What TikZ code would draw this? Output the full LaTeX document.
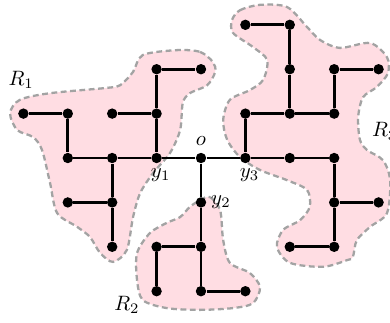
\documentclass[tikz,border=0pt]{standalone}
\usepackage{tikz}
\usetikzlibrary{positioning}
\definecolor{rgFill}{HTML}{FFDDE3}
\definecolor{rgLine}{HTML}{A3A3A3}
\tikzset{
  vtx/.style={circle, fill=black, inner sep=0pt, minimum size=5pt},
  tedge/.style={line width=1.4pt, black},
  region/.style={fill=rgFill, draw=rgLine, line width=1.1pt, dash pattern=on 2.8pt off 1.7pt},
  lbl/.style={font=\normalsize, inner sep=1pt}
}

\begin{document}
\begin{tikzpicture}[x=0.75cm, y=0.75cm]
  \useasboundingbox (-4.527,-3.694) rectangle (4.257,3.559);
  % regions
  \draw[region] plot[smooth cycle] coordinates {
    (-0.54,2.43) (-0.02,2.39) (0.27,2.16) (0.32,1.94) (0.14,1.64) (-0.25,1.46)
    (-0.41,1.24) (-0.47,0.63) (-0.70,0.11) (-1.08,-0.34) (-1.37,-0.79) (-1.53,-1.33)
    (-1.67,-2.07) (-1.98,-2.34) (-2.27,-2.14) (-2.50,-1.78) (-2.79,-1.55) (-3.24,-1.24)
    (-3.40,-0.56) (-3.58,0.18) (-3.78,0.47) (-4.14,0.63) (-4.30,1.01) (-4.08,1.31)
    (-3.40,1.46) (-2.12,1.58) (-1.82,1.64) (-1.53,1.94) (-1.31,2.32)};
  \draw[region] plot[smooth cycle] coordinates {
    (-0.02,-0.95) (0.20,-0.88) (0.43,-1.17) (0.50,-1.85) (0.65,-2.36) (1.10,-2.59)
    (1.33,-2.91) (1.17,-3.27) (0.72,-3.38) (-0.02,-3.42) (-0.77,-3.38) (-1.31,-3.20)
    (-1.44,-2.75) (-1.44,-2.14) (-1.15,-1.69) (-0.77,-1.46) (-0.47,-1.33) (-0.25,-1.10)};
  \draw[region] plot[smooth cycle] coordinates {
    (0.70,3.11) (0.88,3.33) (1.33,3.45) (1.94,3.40) (2.39,2.95) (2.68,2.66)
    (3.13,2.48) (3.81,2.59) (4.19,2.27) (4.21,1.91) (3.96,1.60) (3.65,1.37)
    (3.54,0.92) (3.58,0.41) (3.74,0.18) (4.10,-0.05) (4.26,-0.50) (4.19,-1.24)
    (3.81,-1.55) (3.51,-1.85) (3.42,-2.23) (3.29,-2.30) (2.75,-2.45) (2.00,-2.36)
    (1.71,-2.00) (1.85,-1.62) (2.23,-1.40) (2.45,-1.10) (2.39,-0.72) (1.94,-0.50)
    (1.33,-0.27) (0.88,0.02) (0.59,0.41) (0.50,0.86) (0.65,1.31) (1.10,1.53)
    (1.40,1.76) (1.49,2.21) (1.17,2.50) (0.72,2.82)};
  \node[lbl] (lR1) at (-4.05,1.76) {$R_1$};
  \node[lbl] (lR2) at (-1.67,-3.31) {$R_2$};
  \node[lbl, anchor=west] (lR3) at (3.80,0.60) {$R_3$};

  % centre
  \node[vtx] (o) at (0,0) {};
  \node[vtx] (y1) at (-1,0) {};
  \node[vtx] (y2) at (0,-1) {};
  \node[vtx] (y3) at (1,0) {};
  \node[lbl, above=2pt of o] (lo) {$o$};
  \node[lbl, below=1pt of y1, xshift=2pt] (ly1) {$y_1$};
  \node[lbl, right=1pt of y2] (ly2) {$y_2$};
  \node[lbl, below=1pt of y3, xshift=2pt] (ly3) {$y_3$};

  % R1
  \node[vtx] (a1) at (-4,1) {};
  \node[vtx] (a2) at (-3,1) {};
  \node[vtx] (a3) at (-2,1) {};
  \node[vtx] (a4) at (-1,1) {};
  \node[vtx] (a5) at (-1,2) {};
  \node[vtx] (a6) at (0,2) {};
  \node[vtx] (a7) at (-3,0) {};
  \node[vtx] (a8) at (-2,0) {};
  \node[vtx] (a9) at (-3,-1) {};
  \node[vtx] (a10) at (-2,-1) {};
  \node[vtx] (a11) at (-2,-2) {};

  % R2
  \node[vtx] (b1) at (0,-2) {};
  \node[vtx] (b2) at (-1,-2) {};
  \node[vtx] (b3) at (-1,-3) {};
  \node[vtx] (b4) at (0,-3) {};
  \node[vtx] (b5) at (1,-3) {};

  % R3
  \node[vtx] (c1) at (1,3) {};
  \node[vtx] (c2) at (2,3) {};
  \node[vtx] (c3) at (2,2) {};
  \node[vtx] (c4) at (3,2) {};
  \node[vtx] (c5) at (4,2) {};
  \node[vtx] (c6) at (1,1) {};
  \node[vtx] (c7) at (2,1) {};
  \node[vtx] (c8) at (3,1) {};
  \node[vtx] (c9) at (2,0) {};
  \node[vtx] (c10) at (3,0) {};
  \node[vtx] (c11) at (3,-1) {};
  \node[vtx] (c12) at (4,-1) {};
  \node[vtx] (c13) at (2,-2) {};
  \node[vtx] (c14) at (3,-2) {};

  \draw[tedge] (y1) -- (o);
  \draw[tedge] (o) -- (y3);
  \draw[tedge] (o) -- (y2);

  \draw[tedge] (a1) -- (a2);
  \draw[tedge] (a2) -- (a7);
  \draw[tedge] (a7) -- (a8);
  \draw[tedge] (a8) -- (y1);
  \draw[tedge] (a3) -- (a4);
  \draw[tedge] (a5) -- (a4);
  \draw[tedge] (a4) -- (y1);
  \draw[tedge] (a5) -- (a6);
  \draw[tedge] (a8) -- (a10);
  \draw[tedge] (a10) -- (a11);
  \draw[tedge] (a9) -- (a10);

  \draw[tedge] (y2) -- (b1);
  \draw[tedge] (b2) -- (b1);
  \draw[tedge] (b2) -- (b3);
  \draw[tedge] (b1) -- (b4);
  \draw[tedge] (b4) -- (b5);

  \draw[tedge] (c1) -- (c2);
  \draw[tedge] (c2) -- (c3);
  \draw[tedge] (c3) -- (c7);
  \draw[tedge] (c6) -- (c7);
  \draw[tedge] (c7) -- (c8);
  \draw[tedge] (c4) -- (c5);
  \draw[tedge] (c4) -- (c8);
  \draw[tedge] (c6) -- (y3);
  \draw[tedge] (y3) -- (c9);
  \draw[tedge] (c9) -- (c10);
  \draw[tedge] (c10) -- (c11);
  \draw[tedge] (c11) -- (c14);
  \draw[tedge] (c11) -- (c12);
  \draw[tedge] (c13) -- (c14);
\end{tikzpicture}
\end{document}
